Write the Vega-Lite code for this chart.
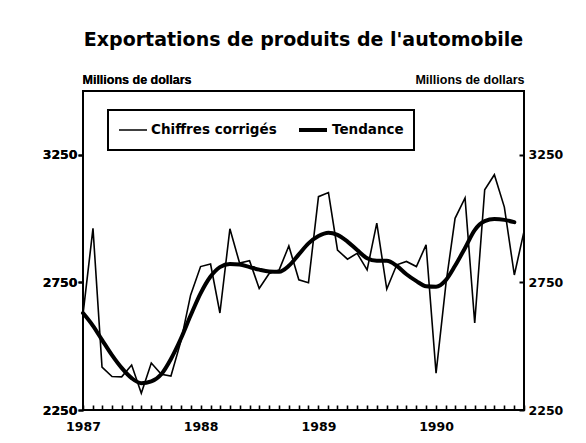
{
  "$schema": "https://vega.github.io/schema/vega-lite/v6.json",
  "width": 441,
  "height": 319,
  "autosize": {"type": "none"},
  "padding": {"left": 83, "top": 91, "right": 62, "bottom": 33},
  "background": "white",
  "title": {
    "text": "Exportations de produits de l'automobile",
    "font": "DejaVu Sans",
    "fontSize": 19,
    "fontWeight": "bold",
    "color": "black",
    "anchor": "middle",
    "frame": "group",
    "offset": 23
  },
  "datasets": {
    "raw": [
      {"date": "1987-01-01", "value": 2625, "series": "Chiffres corrigés"},
      {"date": "1987-02-01", "value": 2962, "series": "Chiffres corrigés"},
      {"date": "1987-03-01", "value": 2418, "series": "Chiffres corrigés"},
      {"date": "1987-04-01", "value": 2381, "series": "Chiffres corrigés"},
      {"date": "1987-05-01", "value": 2380, "series": "Chiffres corrigés"},
      {"date": "1987-06-01", "value": 2426, "series": "Chiffres corrigés"},
      {"date": "1987-07-01", "value": 2316, "series": "Chiffres corrigés"},
      {"date": "1987-08-01", "value": 2434, "series": "Chiffres corrigés"},
      {"date": "1987-09-01", "value": 2390, "series": "Chiffres corrigés"},
      {"date": "1987-10-01", "value": 2383, "series": "Chiffres corrigés"},
      {"date": "1987-11-01", "value": 2520, "series": "Chiffres corrigés"},
      {"date": "1987-12-01", "value": 2700, "series": "Chiffres corrigés"},
      {"date": "1988-01-01", "value": 2812, "series": "Chiffres corrigés"},
      {"date": "1988-02-01", "value": 2822, "series": "Chiffres corrigés"},
      {"date": "1988-03-01", "value": 2630, "series": "Chiffres corrigés"},
      {"date": "1988-04-01", "value": 2960, "series": "Chiffres corrigés"},
      {"date": "1988-05-01", "value": 2826, "series": "Chiffres corrigés"},
      {"date": "1988-06-01", "value": 2835, "series": "Chiffres corrigés"},
      {"date": "1988-07-01", "value": 2726, "series": "Chiffres corrigés"},
      {"date": "1988-08-01", "value": 2785, "series": "Chiffres corrigés"},
      {"date": "1988-09-01", "value": 2799, "series": "Chiffres corrigés"},
      {"date": "1988-10-01", "value": 2893, "series": "Chiffres corrigés"},
      {"date": "1988-11-01", "value": 2760, "series": "Chiffres corrigés"},
      {"date": "1988-12-01", "value": 2749, "series": "Chiffres corrigés"},
      {"date": "1989-01-01", "value": 3086, "series": "Chiffres corrigés"},
      {"date": "1989-02-01", "value": 3102, "series": "Chiffres corrigés"},
      {"date": "1989-03-01", "value": 2877, "series": "Chiffres corrigés"},
      {"date": "1989-04-01", "value": 2841, "series": "Chiffres corrigés"},
      {"date": "1989-05-01", "value": 2864, "series": "Chiffres corrigés"},
      {"date": "1989-06-01", "value": 2799, "series": "Chiffres corrigés"},
      {"date": "1989-07-01", "value": 2982, "series": "Chiffres corrigés"},
      {"date": "1989-08-01", "value": 2724, "series": "Chiffres corrigés"},
      {"date": "1989-09-01", "value": 2819, "series": "Chiffres corrigés"},
      {"date": "1989-10-01", "value": 2832, "series": "Chiffres corrigés"},
      {"date": "1989-11-01", "value": 2812, "series": "Chiffres corrigés"},
      {"date": "1989-12-01", "value": 2897, "series": "Chiffres corrigés"},
      {"date": "1990-01-01", "value": 2394, "series": "Chiffres corrigés"},
      {"date": "1990-02-01", "value": 2748, "series": "Chiffres corrigés"},
      {"date": "1990-03-01", "value": 3001, "series": "Chiffres corrigés"},
      {"date": "1990-04-01", "value": 3081, "series": "Chiffres corrigés"},
      {"date": "1990-05-01", "value": 2591, "series": "Chiffres corrigés"},
      {"date": "1990-06-01", "value": 3113, "series": "Chiffres corrigés"},
      {"date": "1990-07-01", "value": 3172, "series": "Chiffres corrigés"},
      {"date": "1990-08-01", "value": 3045, "series": "Chiffres corrigés"},
      {"date": "1990-09-01", "value": 2779, "series": "Chiffres corrigés"},
      {"date": "1990-10-01", "value": 2950, "series": "Chiffres corrigés"}
    ],
    "trend": [
      {"date": "1987-01-01", "value": 2630, "series": "Tendance"},
      {"date": "1987-02-01", "value": 2580, "series": "Tendance"},
      {"date": "1987-03-01", "value": 2525, "series": "Tendance"},
      {"date": "1987-04-01", "value": 2465, "series": "Tendance"},
      {"date": "1987-05-01", "value": 2415, "series": "Tendance"},
      {"date": "1987-06-01", "value": 2375, "series": "Tendance"},
      {"date": "1987-07-01", "value": 2355, "series": "Tendance"},
      {"date": "1987-08-01", "value": 2362, "series": "Tendance"},
      {"date": "1987-09-01", "value": 2390, "series": "Tendance"},
      {"date": "1987-10-01", "value": 2450, "series": "Tendance"},
      {"date": "1987-11-01", "value": 2530, "series": "Tendance"},
      {"date": "1987-12-01", "value": 2620, "series": "Tendance"},
      {"date": "1988-01-01", "value": 2707, "series": "Tendance"},
      {"date": "1988-02-01", "value": 2773, "series": "Tendance"},
      {"date": "1988-03-01", "value": 2810, "series": "Tendance"},
      {"date": "1988-04-01", "value": 2822, "series": "Tendance"},
      {"date": "1988-05-01", "value": 2820, "series": "Tendance"},
      {"date": "1988-06-01", "value": 2810, "series": "Tendance"},
      {"date": "1988-07-01", "value": 2800, "series": "Tendance"},
      {"date": "1988-08-01", "value": 2793, "series": "Tendance"},
      {"date": "1988-09-01", "value": 2792, "series": "Tendance"},
      {"date": "1988-10-01", "value": 2815, "series": "Tendance"},
      {"date": "1988-11-01", "value": 2860, "series": "Tendance"},
      {"date": "1988-12-01", "value": 2903, "series": "Tendance"},
      {"date": "1989-01-01", "value": 2932, "series": "Tendance"},
      {"date": "1989-02-01", "value": 2945, "series": "Tendance"},
      {"date": "1989-03-01", "value": 2936, "series": "Tendance"},
      {"date": "1989-04-01", "value": 2910, "series": "Tendance"},
      {"date": "1989-05-01", "value": 2877, "series": "Tendance"},
      {"date": "1989-06-01", "value": 2845, "series": "Tendance"},
      {"date": "1989-07-01", "value": 2835, "series": "Tendance"},
      {"date": "1989-08-01", "value": 2835, "series": "Tendance"},
      {"date": "1989-09-01", "value": 2815, "series": "Tendance"},
      {"date": "1989-10-01", "value": 2782, "series": "Tendance"},
      {"date": "1989-11-01", "value": 2755, "series": "Tendance"},
      {"date": "1989-12-01", "value": 2735, "series": "Tendance"},
      {"date": "1990-01-01", "value": 2733, "series": "Tendance"},
      {"date": "1990-02-01", "value": 2760, "series": "Tendance"},
      {"date": "1990-03-01", "value": 2815, "series": "Tendance"},
      {"date": "1990-04-01", "value": 2885, "series": "Tendance"},
      {"date": "1990-05-01", "value": 2955, "series": "Tendance"},
      {"date": "1990-06-01", "value": 2990, "series": "Tendance"},
      {"date": "1990-07-01", "value": 2998, "series": "Tendance"},
      {"date": "1990-08-01", "value": 2995, "series": "Tendance"},
      {"date": "1990-09-01", "value": 2986, "series": "Tendance"}
    ]
  },
  "encoding": {
    "x": {
      "field": "date",
      "type": "temporal",
      "scale": {
        "type": "utc",
        "domain": [
          {"year": 1987, "month": 1, "date": 1, "utc": true},
          {"year": 1990, "month": 10, "date": 1, "utc": true}
        ]
      },
      "axis": {
        "title": null,
        "ticks": true,
        "tickCount": {"interval": "month", "step": 1},
        "labelExpr": "utcmonth(datum.value) === 0 ? utcFormat(datum.value, '%Y') : ''",
        "labelOverlap": false,
        "labelFlush": false,
        "offset": -5,
        "tickSize": 5,
        "tickWidth": 1.6,
        "labelPadding": 10,
        "labelBaseline": "top",
        "grid": false
      }
    },
    "y": {
      "field": "value",
      "type": "quantitative",
      "scale": {"domain": [2250, 3500], "nice": false, "zero": false},
      "axis": {
        "orient": "left",
        "values": [2250, 2750, 3250],
        "format": "d",
        "title": "Millions de dollars",
        "titleAngle": 0,
        "titleAlign": "left",
        "titleBaseline": "alphabetic",
        "titleX": -1,
        "titleY": -8,
        "tickSize": 5,
        "tickWidth": 2,
        "labelPadding": 1,
        "grid": false
      }
    },
    "strokeWidth": {
      "field": "series",
      "type": "nominal",
      "scale": {"domain": ["Chiffres corrigés", "Tendance"], "range": [1.6, 4]},
      "legend": {
        "title": null,
        "orient": "none",
        "legendX": 25,
        "legendY": 19,
        "direction": "horizontal",
        "symbolType": "stroke",
        "symbolSize": 784,
        "symbolStrokeColor": "black",
        "strokeColor": "black",
        "padding": 10,
        "clipHeight": 20,
        "labelOffset": 3,
        "columnPadding": 20,
        "labelFont": "DejaVu Sans",
        "labelFontWeight": "bold",
        "labelFontSize": 13.5,
        "labelColor": "black"
      }
    }
  },
  "layer": [
    {
      "data": {"name": "raw"},
      "mark": {"type": "line", "color": "black", "interpolate": "linear", "strokeJoin": "miter"}
    },
    {
      "data": {"name": "trend"},
      "mark": {"type": "line", "color": "black", "interpolate": "monotone", "strokeCap": "round"}
    },
    {
      "data": {"name": "raw"},
      "mark": {"type": "rule", "opacity": 0},
      "encoding": {
        "y": {
          "field": "value",
          "type": "quantitative",
          "axis": {
            "orient": "right",
            "values": [2250, 2750, 3250],
            "format": "d",
            "title": "Millions de dollars",
            "titleAngle": 0,
            "titleAlign": "right",
            "titleBaseline": "alphabetic",
            "titleX": 5,
            "titleY": -8,
            "offset": -5,
            "tickSize": 5,
            "tickWidth": 2,
            "labelPadding": 4,
            "grid": false
          }
        },
        "strokeWidth": {"value": 0}
      }
    }
  ],
  "resolve": {"scale": {"y": "shared"}, "axis": {"y": "independent"}},
  "config": {
    "view": {"stroke": "black", "strokeWidth": 2},
    "axis": {
      "domain": false,
      "labelFont": "DejaVu Sans",
      "labelFontWeight": "bold",
      "labelFontSize": 12.5,
      "labelColor": "black",
      "tickColor": "black",
      "tickWidth": 1.5,
      "titleFont": "Liberation Sans",
      "titleFontWeight": "bold",
      "titleFontSize": 12.5,
      "titleColor": "black"
    },
    "legend": {"strokeWidth": 2}
  }
}
